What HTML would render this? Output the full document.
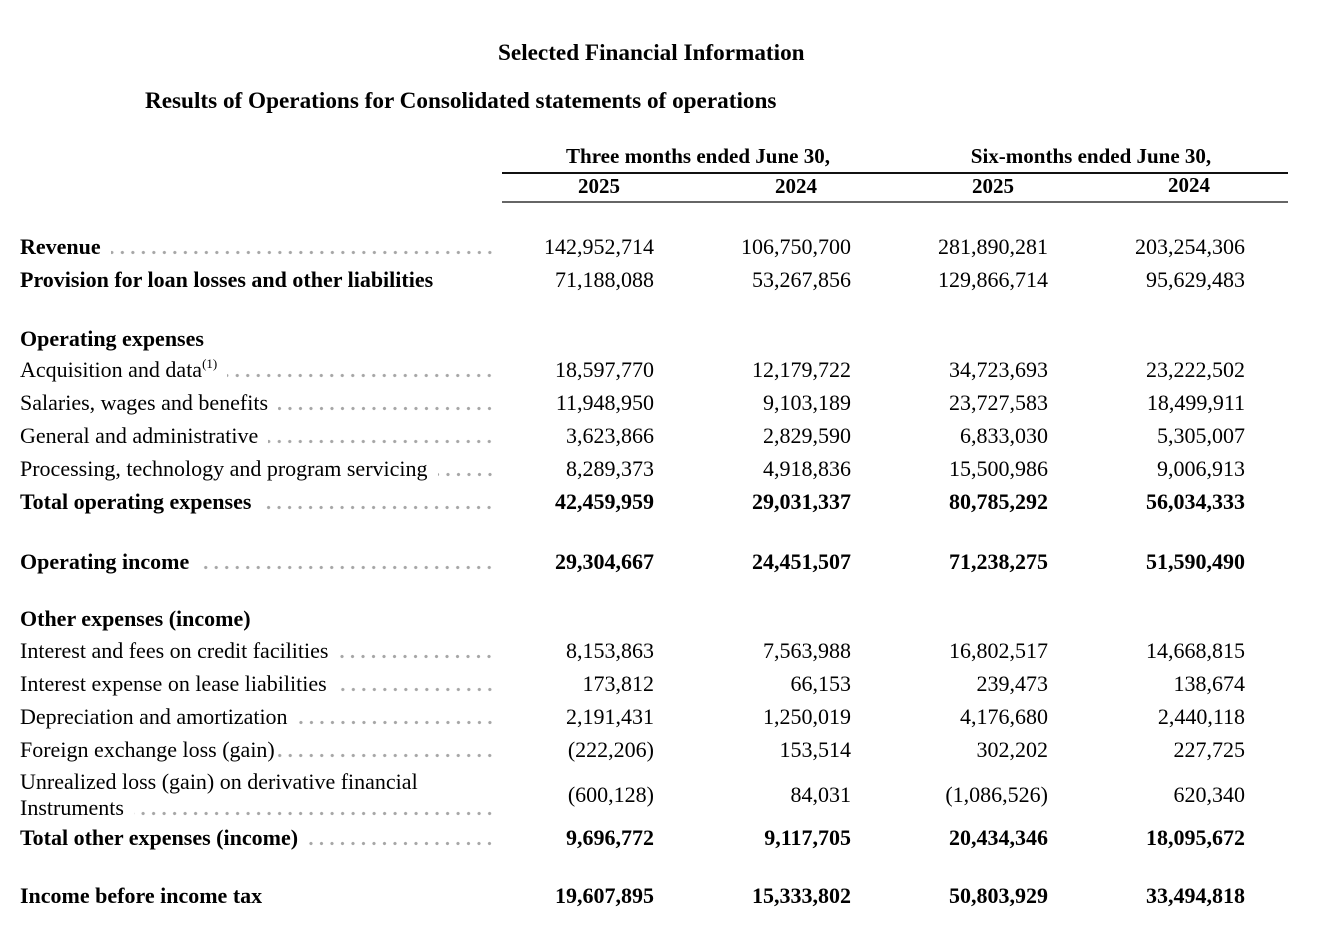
<!DOCTYPE html>
<html>
<head>
<meta charset="utf-8">
<style>
  html, body { margin:0; padding:0; background:#fff; }
  body { width:1322px; height:932px; position:relative; overflow:hidden;
         font-family:"Liberation Serif", "Times New Roman", serif; color:#000; }
  .t { position:absolute; white-space:nowrap; font-size:22px; line-height:22px; height:22px; }
  .b { font-weight:bold; }
  .title { font-size:23.2px; line-height:23px; height:23px; font-weight:bold; }
  .hdr { font-size:21px; line-height:21px; height:21px; font-weight:bold; text-align:center; }
  .lbl { position:absolute; left:20px; width:475px; display:flex; font-size:22px; line-height:22px; height:22px; white-space:nowrap; }
  .lead { flex:1; margin-left:10px; height:22px;
          background-image: radial-gradient(circle at 5px 16.5px, #a6a6a6 1.3px, rgba(255,255,255,0) 1.9px);
          background-size:10.5px 22px; background-repeat:repeat-x; background-position:right top; }
  .n { position:absolute; width:180px; text-align:right; font-size:22px; line-height:22px; height:22px; white-space:nowrap; }
  .c1 { left:474px; } .c2 { left:671px; } .c3 { left:868px; } .c4 { left:1065px; }
  .sup { font-size:13px; position:relative; top:-9px; }
  .line { position:absolute; left:502px; width:786px; }
</style>
</head>
<body>
  <div class="t title" style="left:498px; top:42px;">Selected Financial Information</div>
  <div class="t title" style="left:145px; top:90px;">Results of Operations for Consolidated statements of operations</div>

  <div class="t hdr" style="left:548px; width:300px; top:146px;">Three months ended June 30,</div>
  <div class="t hdr" style="left:941px; width:300px; top:146px;">Six-months ended June 30,</div>
  <div class="line" style="top:172px; height:1.5px; background:#111;"></div>
  <div class="t hdr" style="left:549px; width:100px; top:176px;">2025</div>
  <div class="t hdr" style="left:746px; width:100px; top:176px;">2024</div>
  <div class="t hdr" style="left:943px; width:100px; top:176px;">2025</div>
  <div class="t hdr" style="left:1139px; width:100px; top:175px;">2024</div>
  <div class="line" style="top:201px; height:2px; background:#666;"></div>

  <div class="lbl b" style="top:236px;"><span>Revenue</span><span class="lead"></span></div>
  <div class="n c1" style="top:236px;">142,952,714</div>
  <div class="n c2" style="top:236px;">106,750,700</div>
  <div class="n c3" style="top:236px;">281,890,281</div>
  <div class="n c4" style="top:236px;">203,254,306</div>

  <div class="lbl b" style="top:269px;"><span>Provision for loan losses and other liabilities</span></div>
  <div class="n c1" style="top:269px;">71,188,088</div>
  <div class="n c2" style="top:269px;">53,267,856</div>
  <div class="n c3" style="top:269px;">129,866,714</div>
  <div class="n c4" style="top:269px;">95,629,483</div>

  <div class="lbl b" style="top:328px;"><span>Operating expenses</span></div>

  <div class="lbl" style="top:359px;"><span>Acquisition and data<span class="sup">(1)</span></span><span class="lead"></span></div>
  <div class="n c1" style="top:359px;">18,597,770</div>
  <div class="n c2" style="top:359px;">12,179,722</div>
  <div class="n c3" style="top:359px;">34,723,693</div>
  <div class="n c4" style="top:359px;">23,222,502</div>

  <div class="lbl" style="top:392px;"><span>Salaries, wages and benefits</span><span class="lead"></span></div>
  <div class="n c1" style="top:392px;">11,948,950</div>
  <div class="n c2" style="top:392px;">9,103,189</div>
  <div class="n c3" style="top:392px;">23,727,583</div>
  <div class="n c4" style="top:392px;">18,499,911</div>

  <div class="lbl" style="top:425px;"><span>General and administrative</span><span class="lead"></span></div>
  <div class="n c1" style="top:425px;">3,623,866</div>
  <div class="n c2" style="top:425px;">2,829,590</div>
  <div class="n c3" style="top:425px;">6,833,030</div>
  <div class="n c4" style="top:425px;">5,305,007</div>

  <div class="lbl" style="top:458px;"><span>Processing, technology and program servicing</span><span class="lead"></span></div>
  <div class="n c1" style="top:458px;">8,289,373</div>
  <div class="n c2" style="top:458px;">4,918,836</div>
  <div class="n c3" style="top:458px;">15,500,986</div>
  <div class="n c4" style="top:458px;">9,006,913</div>

  <div class="lbl b" style="top:491px;"><span>Total operating expenses</span><span class="lead"></span></div>
  <div class="n c1 b" style="top:491px;">42,459,959</div>
  <div class="n c2 b" style="top:491px;">29,031,337</div>
  <div class="n c3 b" style="top:491px;">80,785,292</div>
  <div class="n c4 b" style="top:491px;">56,034,333</div>

  <div class="lbl b" style="top:551px;"><span>Operating income</span><span class="lead"></span></div>
  <div class="n c1 b" style="top:551px;">29,304,667</div>
  <div class="n c2 b" style="top:551px;">24,451,507</div>
  <div class="n c3 b" style="top:551px;">71,238,275</div>
  <div class="n c4 b" style="top:551px;">51,590,490</div>

  <div class="lbl b" style="top:608px;"><span>Other expenses (income)</span></div>

  <div class="lbl" style="top:640px;"><span>Interest and fees on credit facilities</span><span class="lead"></span></div>
  <div class="n c1" style="top:640px;">8,153,863</div>
  <div class="n c2" style="top:640px;">7,563,988</div>
  <div class="n c3" style="top:640px;">16,802,517</div>
  <div class="n c4" style="top:640px;">14,668,815</div>

  <div class="lbl" style="top:673px;"><span>Interest expense on lease liabilities</span><span class="lead"></span></div>
  <div class="n c1" style="top:673px;">173,812</div>
  <div class="n c2" style="top:673px;">66,153</div>
  <div class="n c3" style="top:673px;">239,473</div>
  <div class="n c4" style="top:673px;">138,674</div>

  <div class="lbl" style="top:706px;"><span>Depreciation and amortization</span><span class="lead"></span></div>
  <div class="n c1" style="top:706px;">2,191,431</div>
  <div class="n c2" style="top:706px;">1,250,019</div>
  <div class="n c3" style="top:706px;">4,176,680</div>
  <div class="n c4" style="top:706px;">2,440,118</div>

  <div class="lbl" style="top:739px;"><span>Foreign exchange loss (gain)</span><span class="lead" style="margin-left:3px;"></span></div>
  <div class="n c1" style="top:739px;">(222,206)</div>
  <div class="n c2" style="top:739px;">153,514</div>
  <div class="n c3" style="top:739px;">302,202</div>
  <div class="n c4" style="top:739px;">227,725</div>

  <div class="lbl" style="top:771px;"><span>Unrealized loss (gain) on derivative financial</span></div>
  <div class="lbl" style="top:797px;"><span>Instruments</span><span class="lead"></span></div>
  <div class="n c1" style="top:784px;">(600,128)</div>
  <div class="n c2" style="top:784px;">84,031</div>
  <div class="n c3" style="top:784px;">(1,086,526)</div>
  <div class="n c4" style="top:784px;">620,340</div>

  <div class="lbl b" style="top:827px;"><span>Total other expenses (income)</span><span class="lead"></span></div>
  <div class="n c1 b" style="top:827px;">9,696,772</div>
  <div class="n c2 b" style="top:827px;">9,117,705</div>
  <div class="n c3 b" style="top:827px;">20,434,346</div>
  <div class="n c4 b" style="top:827px;">18,095,672</div>

  <div class="lbl b" style="top:885px;"><span>Income before income tax</span></div>
  <div class="n c1 b" style="top:885px;">19,607,895</div>
  <div class="n c2 b" style="top:885px;">15,333,802</div>
  <div class="n c3 b" style="top:885px;">50,803,929</div>
  <div class="n c4 b" style="top:885px;">33,494,818</div>
</body>
</html>
